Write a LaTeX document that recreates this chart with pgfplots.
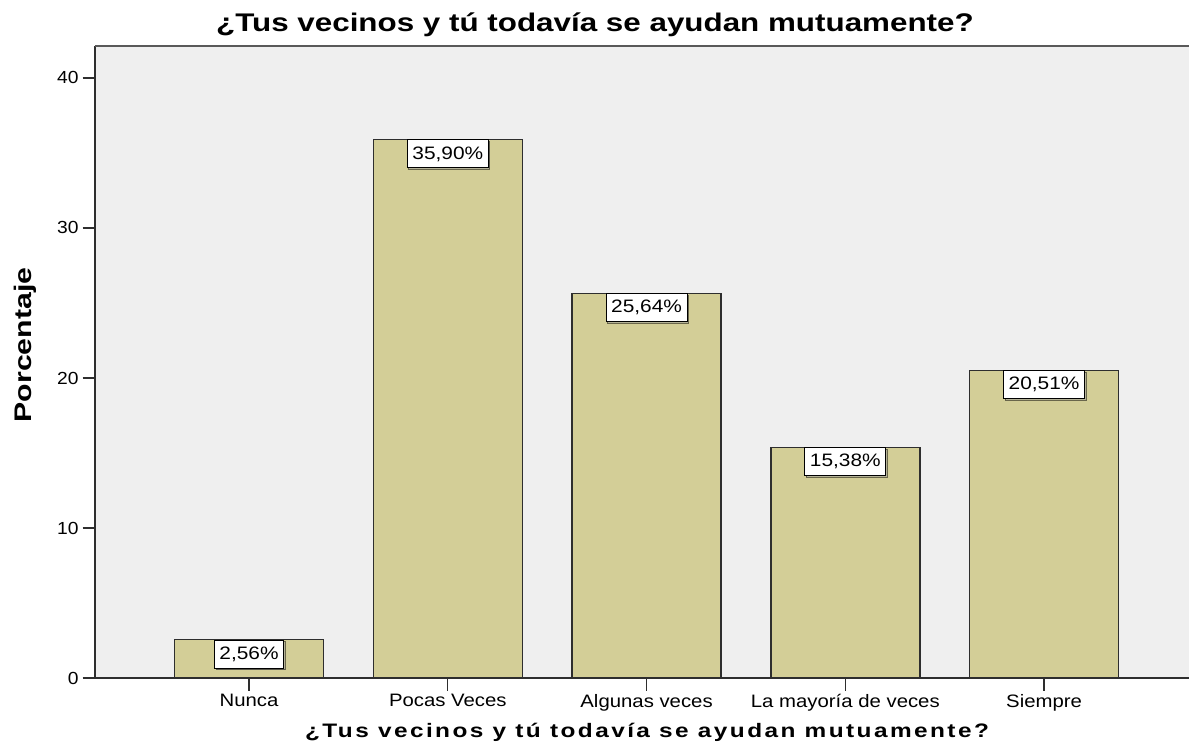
\documentclass[border=0pt]{standalone}
\usepackage{fontspec}
\setmainfont{Liberation Sans}
\usepackage{pgfplots}
\pgfplotsset{compat=1.18}
\usetikzlibrary{shadows}
\definecolor{barfill}{HTML}{D3CE97}
\definecolor{bgfill}{HTML}{EFEFEF}
\definecolor{axcol}{HTML}{2E2E2E}
\begin{document}
\begin{tikzpicture}
\begin{axis}[
  scale only axis, width=1094pt, height=632pt,
  xmin=-0.775, xmax=4.729, ymin=0, ymax=42.13,
  axis x line*=bottom, axis y line*=left,
  every outer x axis line/.append style={-},
  every outer y axis line/.append style={-},
  axis line style={axcol, line width=1.6pt, -},
  axis background/.style={fill=bgfill},
  ybar, bar width=0.75,
  xtick=data,
  xticklabels={Nunca, Pocas Veces, Algunas veces, La mayoría de veces, Siempre},
  ytick={0,10,20,30,40},
  tick style={axcol, line width=1.3pt},
  major tick length=12.5pt, tick align=outside,
  /pgf/number format/assume math mode=true,
  yticklabel style={font=\fontsize{17.5}{20}\selectfont, xscale=1.1},
  xticklabel style={font=\fontsize{18}{20}\selectfont, xscale=1.13},
  title={¿Tus vecinos y tú todavía se ayudan mutuamente?},
  title style={at={(rel axis cs:0.457,1.0142)}, anchor=base,
    font=\bfseries\fontsize{25.5}{30}\selectfont, xscale=1.23},
  xlabel={\addfontfeatures{LetterSpace=10}¿Tus vecinos y tú todavía se ayudan mutuamente?},
  xlabel style={at={(rel axis cs:0.5046,-0.0934)}, anchor=base,
    font=\bfseries\fontsize{19.5}{22}\selectfont, xscale=1.25},
  ylabel={Porcentaje},
  ylabel style={at={(rel axis cs:-0.064,0.527)}, anchor=center,
    font=\bfseries\fontsize{24}{28}\selectfont, xscale=1.26},
  nodes near coords={\pgfmathprintnumber[fixed, fixed zerofill, precision=2, use comma]{\pgfplotspointmeta}\%},
  every node near coord/.append style={anchor=north, fill=white, draw=black,
    line width=0.9pt, font=\fontsize{18}{20}\selectfont, xscale=1.16,
    inner xsep=4.3pt, inner ysep=0pt, minimum height=28pt,
    drop shadow={shadow xshift=1.5pt, shadow yshift=-1.5pt, fill=gray!80}},
]
\addplot[fill=barfill, draw=axcol, line width=1.5pt] coordinates {
  (0,2.56) (1,35.90) (2,25.64) (3,15.38) (4,20.51)
};
\draw[color=black!65, line width=1.8pt] (rel axis cs:0,1) -- (rel axis cs:1,1);
\coordinate (bl) at (rel axis cs:0,0);
\coordinate (tr) at (rel axis cs:1,1);
\end{axis}
\pgfresetboundingbox
\path ([xshift=-95pt,yshift=-73pt]bl) rectangle ([yshift=46pt]tr);
\end{tikzpicture}
\end{document}
